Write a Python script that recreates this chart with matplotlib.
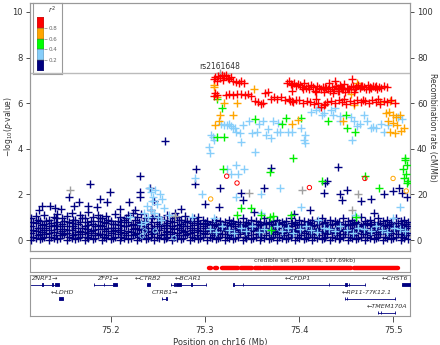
import matplotlib

matplotlib.use("Agg")
import matplotlib.pyplot as plt

# ---- association points (position Mb, -log10 p) ----
# dense background band of low-LD SNPs, one column of values per position
navy_band = [
    (75.115, [0.02, 0.3, 0.6, 0.95]), (75.120, [0.1, 0.4, 0.75, 1.05]),
    (75.124, [0.05, 0.25, 0.55, 0.85]), (75.129, [0.15, 0.45, 0.7, 1.1]),
    (75.134, [0.0, 0.3, 0.6, 0.9]), (75.139, [0.1, 0.35, 0.65, 1.0]),
    (75.143, [0.05, 0.5, 0.8, 1.15]), (75.148, [0.2, 0.4, 0.7, 0.95]),
    (75.153, [0.0, 0.3, 0.6, 1.05]), (75.158, [0.1, 0.45, 0.75, 1.2]),
    (75.162, [0.05, 0.25, 0.55, 0.9]), (75.167, [0.15, 0.4, 0.8, 1.1]),
    (75.172, [0.0, 0.35, 0.6, 0.95]), (75.176, [0.1, 0.3, 0.65, 1.25]),
    (75.181, [0.05, 0.45, 0.7, 1.0]), (75.186, [0.2, 0.5, 0.85, 1.1]),
    (75.190, [0.0, 0.25, 0.6, 0.95]), (75.195, [0.1, 0.4, 0.75, 1.05]),
    (75.200, [0.05, 0.3, 0.55, 0.85]), (75.204, [0.15, 0.45, 0.7, 1.15]),
    (75.209, [0.0, 0.35, 0.65, 1.0]), (75.214, [0.1, 0.3, 0.6, 0.9]),
    (75.218, [0.05, 0.4, 0.8, 1.1]), (75.223, [0.2, 0.5, 0.7, 1.2]),
    (75.228, [0.0, 0.3, 0.65, 1.0]), (75.232, [0.1, 0.45, 0.75, 1.15]),
    (75.237, [0.05, 0.35, 0.55, 0.95]), (75.242, [0.15, 0.4, 0.8, 1.3]),
    (75.246, [0.0, 0.3, 0.6, 1.05]), (75.251, [0.1, 0.45, 0.7, 1.0]),
    (75.256, [0.05, 0.25, 0.55, 0.9]), (75.260, [0.15, 0.4, 0.75, 1.1]),
    (75.265, [0.0, 0.35, 0.6, 0.95]), (75.270, [0.1, 0.3, 0.65, 1.0]),
    (75.274, [0.05, 0.45, 0.7, 0.9]), (75.279, [0.2, 0.4, 0.8, 1.05]),
    (75.284, [0.0, 0.3, 0.55, 0.85]), (75.288, [0.1, 0.35, 0.65, 0.95]),
    (75.293, [0.05, 0.45, 0.75, 1.0]), (75.298, [0.15, 0.3, 0.6, 0.9]),
    (75.302, [0.0, 0.4, 0.7, 0.85]), (75.307, [0.1, 0.3, 0.55, 0.8]),
    (75.312, [0.05, 0.35, 0.65, 0.9]), (75.316, [0.15, 0.45, 0.7, 0.85]),
    (75.321, [0.0, 0.25, 0.5, 0.8]), (75.326, [0.1, 0.4, 0.6, 0.9]),
    (75.330, [0.05, 0.3, 0.7, 0.85]), (75.335, [0.15, 0.35, 0.55, 0.8]),
    (75.340, [0.0, 0.45, 0.65, 0.95]), (75.344, [0.1, 0.3, 0.6, 0.8]),
    (75.349, [0.05, 0.4, 0.7, 0.9]), (75.354, [0.15, 0.25, 0.55, 0.85]),
    (75.358, [0.0, 0.35, 0.65, 0.8]), (75.363, [0.1, 0.45, 0.7, 0.95]),
    (75.368, [0.05, 0.3, 0.5, 0.8]), (75.372, [0.15, 0.4, 0.6, 0.85]),
    (75.377, [0.0, 0.35, 0.7, 0.9]), (75.382, [0.1, 0.3, 0.55, 0.8]),
    (75.386, [0.05, 0.45, 0.65, 0.85]), (75.391, [0.15, 0.25, 0.6, 0.95]),
    (75.396, [0.0, 0.4, 0.7, 0.8]), (75.400, [0.1, 0.35, 0.55, 0.9]),
    (75.405, [0.05, 0.3, 0.65, 0.85]), (75.410, [0.15, 0.45, 0.7, 0.8]),
    (75.414, [0.0, 0.25, 0.6, 0.9]), (75.419, [0.1, 0.4, 0.5, 0.85]),
    (75.424, [0.05, 0.35, 0.7, 0.95]), (75.428, [0.15, 0.3, 0.6, 0.8]),
    (75.433, [0.0, 0.45, 0.65, 0.9]), (75.438, [0.1, 0.3, 0.55, 0.85]),
    (75.442, [0.05, 0.4, 0.7, 0.8]), (75.447, [0.15, 0.25, 0.6, 0.95]),
    (75.452, [0.0, 0.35, 0.65, 0.85]), (75.456, [0.1, 0.45, 0.7, 0.9]),
    (75.461, [0.05, 0.3, 0.55, 0.8]), (75.466, [0.15, 0.4, 0.6, 1.0]),
    (75.470, [0.0, 0.35, 0.7, 0.85]), (75.475, [0.1, 0.3, 0.65, 0.9]),
    (75.480, [0.05, 0.45, 0.55, 0.8]), (75.484, [0.15, 0.25, 0.7, 0.95]),
    (75.489, [0.0, 0.4, 0.6, 0.85]), (75.494, [0.1, 0.35, 0.65, 0.9]),
    (75.498, [0.05, 0.3, 0.7, 0.8]), (75.503, [0.15, 0.45, 0.6, 0.95]),
    (75.508, [0.0, 0.25, 0.55, 0.85]), (75.512, [0.1, 0.4, 0.7, 0.9]),
    (75.516, [0.05, 0.3, 0.6, 0.8]),
]
# second interleaved set of band columns
navy_band2 = [
    (75.117, [0.15, 0.45, 0.8]), (75.122, [0.2, 0.55, 0.9]), (75.127, [0.1, 0.35, 0.65]),
    (75.131, [0.25, 0.55, 0.85]), (75.136, [0.15, 0.45, 0.75]), (75.141, [0.2, 0.6, 0.95]),
    (75.146, [0.1, 0.3, 0.6]), (75.150, [0.25, 0.5, 0.85]), (75.155, [0.15, 0.45, 0.8]),
    (75.160, [0.2, 0.6, 0.9]), (75.165, [0.1, 0.35, 0.7]), (75.169, [0.25, 0.55, 0.95]),
    (75.174, [0.15, 0.5, 0.8]), (75.179, [0.2, 0.4, 0.85]), (75.183, [0.1, 0.3, 0.6]),
    (75.188, [0.25, 0.65, 0.95]), (75.193, [0.15, 0.5, 0.8]), (75.197, [0.2, 0.55, 0.9]),
    (75.202, [0.1, 0.4, 0.7]), (75.207, [0.25, 0.55, 0.85]), (75.211, [0.15, 0.45, 0.8]),
    (75.216, [0.2, 0.6, 0.95]), (75.221, [0.1, 0.35, 0.65]), (75.225, [0.25, 0.55, 0.9]),
    (75.230, [0.15, 0.5, 0.8]), (75.235, [0.2, 0.6, 0.85]), (75.239, [0.1, 0.4, 0.7]),
    (75.244, [0.25, 0.55, 0.95]), (75.249, [0.15, 0.45, 0.8]), (75.253, [0.2, 0.6, 0.9]),
    (75.258, [0.1, 0.35, 0.65]), (75.263, [0.25, 0.55, 0.85]), (75.267, [0.15, 0.5, 0.8]),
    (75.272, [0.2, 0.55, 0.9]), (75.277, [0.1, 0.35, 0.6]), (75.281, [0.25, 0.6, 0.85]),
    (75.286, [0.15, 0.45, 0.75]), (75.291, [0.2, 0.55, 0.85]), (75.295, [0.1, 0.4, 0.7]),
    (75.300, [0.25, 0.55, 0.75]), (75.305, [0.15, 0.45, 0.65]), (75.309, [0.2, 0.5, 0.7]),
    (75.314, [0.1, 0.3, 0.6]), (75.318, [0.25, 0.55, 0.7]), (75.323, [0.15, 0.4, 0.65]),
    (75.328, [0.2, 0.5, 0.75]), (75.332, [0.1, 0.45, 0.6]), (75.337, [0.25, 0.5, 0.7]),
    (75.342, [0.15, 0.35, 0.65]), (75.346, [0.2, 0.55, 0.75]), (75.351, [0.1, 0.45, 0.6]),
    (75.356, [0.25, 0.5, 0.7]), (75.360, [0.15, 0.4, 0.65]), (75.365, [0.2, 0.55, 0.75]),
    (75.370, [0.1, 0.45, 0.7]), (75.374, [0.25, 0.5, 0.65]), (75.379, [0.15, 0.4, 0.75]),
    (75.384, [0.2, 0.55, 0.7]), (75.388, [0.1, 0.35, 0.6]), (75.393, [0.25, 0.5, 0.75]),
    (75.398, [0.15, 0.45, 0.65]), (75.402, [0.2, 0.55, 0.7]), (75.407, [0.1, 0.4, 0.6]),
    (75.412, [0.25, 0.5, 0.75]), (75.416, [0.15, 0.45, 0.65]), (75.421, [0.2, 0.55, 0.7]),
    (75.426, [0.1, 0.4, 0.75]), (75.430, [0.25, 0.5, 0.65]), (75.435, [0.15, 0.35, 0.7]),
    (75.440, [0.2, 0.55, 0.75]), (75.444, [0.1, 0.45, 0.6]), (75.449, [0.25, 0.5, 0.7]),
    (75.454, [0.15, 0.4, 0.65]), (75.458, [0.2, 0.55, 0.75]), (75.463, [0.1, 0.45, 0.7]),
    (75.468, [0.25, 0.5, 0.65]), (75.472, [0.15, 0.4, 0.75]), (75.477, [0.2, 0.55, 0.7]),
    (75.482, [0.1, 0.35, 0.6]), (75.486, [0.25, 0.5, 0.75]), (75.491, [0.15, 0.45, 0.65]),
    (75.496, [0.2, 0.55, 0.7]), (75.500, [0.1, 0.4, 0.6]), (75.505, [0.25, 0.5, 0.75]),
    (75.510, [0.15, 0.45, 0.65]), (75.514, [0.2, 0.55, 0.7]),
]

# scattered low-LD SNPs above the band
navy_x = [75.178, 75.155, 75.199, 75.188, 75.166, 75.231, 75.231, 75.231, 75.241,
          75.127, 75.135, 75.161, 75.176, 75.147, 75.196, 75.219, 75.246, 75.123,
          75.140, 75.210, 75.185, 75.257, 75.290, 75.370, 75.441, 75.289, 75.316,
          75.363, 75.338, 75.340, 75.315, 75.300, 75.274, 75.430, 75.428, 75.451,
          75.427, 75.444, 75.446, 75.466, 75.476, 75.490, 75.500, 75.515, 75.506,
          75.510, 75.226, 75.268, 75.352, 75.395, 75.412, 75.480]
navy_y = [2.45, 1.9, 2.1, 1.8, 1.65, 2.8, 2.1, 1.9, 2.3,
          1.5, 1.5, 1.5, 1.5, 1.35, 1.65, 1.65, 1.7, 1.3,
          1.4, 1.35, 1.45, 4.35, 3.1, 3.15, 3.2, 2.45, 2.3,
          2.3, 2.05, 1.75, 1.45, 1.6, 1.35, 2.6, 2.5, 2.2,
          2.05, 2.0, 1.75, 1.7, 1.8, 2.0, 2.15, 1.9, 2.3,
          2.05, 1.3, 1.2, 1.25, 1.15, 1.3, 1.2]

lblue_x = [
    # upper band
    75.304, 75.305, 75.306, 75.308, 75.310, 75.317, 75.320, 75.323, 75.325, 75.328,
    75.330, 75.332, 75.333, 75.337, 75.340, 75.347, 75.350, 75.355, 75.357, 75.362,
    75.365, 75.367, 75.370, 75.372, 75.377, 75.378, 75.380, 75.388, 75.392, 75.402,
    75.405, 75.406, 75.406, 75.418, 75.421, 75.427, 75.434, 75.436, 75.438, 75.424,
    75.444, 75.455, 75.469, 75.472, 75.479, 75.482, 75.490, 75.458, 75.444, 75.465,
    75.476, 75.456, 75.462, 75.487, 75.495, 75.505, 75.509, 75.338, 75.353, 75.413,
    # mid values
    75.333, 75.323, 75.341, 75.335, 75.289, 75.297, 75.360, 75.380, 75.328, 75.333,
    75.402, 75.286, 75.310, 75.360, 75.420, 75.460, 75.500, 75.507,
    # hump near 75.24
    75.240, 75.243, 75.245, 75.247, 75.244, 75.249, 75.238, 75.242, 75.246, 75.250,
    75.253, 75.236, 75.239, 75.256, 75.254, 75.252, 75.235, 75.232, 75.220, 75.262,
    # low band
    75.305, 75.312, 75.318, 75.325, 75.331, 75.338, 75.344, 75.350, 75.357, 75.363,
    75.369, 75.376, 75.382, 75.388, 75.394, 75.401, 75.407, 75.413, 75.419, 75.426,
    75.432, 75.438, 75.444, 75.451, 75.457, 75.463, 75.469, 75.476, 75.482, 75.488,
    75.494, 75.501, 75.507, 75.513,
]
lblue_y = [
    4.1, 3.8, 4.6, 4.5, 4.4, 5.1, 5.05, 5.05, 5.1, 5.0,
    4.9, 4.9, 4.75, 4.7, 5.05, 5.2, 4.7, 4.75, 5.1, 5.2,
    4.6, 4.85, 4.47, 5.2, 4.75, 5.15, 4.75, 4.75, 4.75, 4.9,
    4.4, 4.25, 4.6, 5.7, 5.8, 5.55, 5.7, 5.48, 5.8, 5.48,
    5.45, 5.4, 5.48, 5.2, 4.95, 4.9, 4.75, 5.2, 5.2, 5.1,
    4.9, 4.4, 5.0, 5.1, 5.05, 5.4, 5.3, 4.3, 3.85, 5.6,
    3.3, 3.1, 3.1, 2.9, 2.7, 2.0, 2.0, 2.3, 2.9, 1.9,
    1.45, 1.0, 0.95, 1.2, 0.9, 1.1, 0.95, 1.45,
    2.3, 2.1, 1.9, 2.2, 1.7, 1.6, 1.5, 1.3, 1.2, 1.0,
    0.9, 0.8, 1.0, 1.4, 1.8, 2.0, 1.2, 0.7, 1.0, 1.1,
    0.5, 0.35, 0.6, 0.45, 0.3, 0.55, 0.4, 0.6, 0.35, 0.5,
    0.45, 0.6, 0.4, 0.55, 0.3, 0.5, 0.6, 0.45, 0.35, 0.55,
    0.5, 0.4, 0.6, 0.45, 0.3, 0.55, 0.5, 0.4, 0.6, 0.45,
    0.35, 0.55, 0.5, 0.4,
]

green_x = [75.320, 75.319, 75.338, 75.349, 75.334, 75.360, 75.372, 75.369, 75.370,
           75.369, 75.394, 75.424, 75.485, 75.470, 75.461, 75.391, 75.313, 75.318,
           75.313, 75.353, 75.386, 75.382, 75.402, 75.431, 75.450, 75.451, 75.459,
           75.513, 75.515, 75.511, 75.514, 75.512, 75.516, 75.513, 75.515]
green_y = [4.5, 3.1, 1.4, 1.4, 1.1, 1.1, 1.05, 1.0, 0.45,
           3.0, 3.6, 2.6, 2.3, 2.8, 1.0, 1.1, 6.2, 5.8,
           4.5, 5.3, 5.35, 5.1, 5.35, 5.2, 5.5, 4.9, 4.75,
           3.5, 3.3, 3.1, 2.9, 2.7, 2.6, 3.6, 2.5]

orange_x = [75.310, 75.309, 75.313, 75.320, 75.334, 75.352, 75.311, 75.315, 75.316,
            75.330, 75.393, 75.399, 75.447, 75.462, 75.455, 75.486, 75.497, 75.493,
            75.496, 75.500, 75.503, 75.507, 75.495, 75.500, 75.504, 75.497, 75.502,
            75.508, 75.512, 75.458]
orange_y = [6.8, 6.7, 6.27, 6.0, 6.0, 6.6, 5.05, 5.2, 5.5,
            5.5, 5.1, 5.25, 5.2, 6.9, 6.4, 6.05, 6.1, 5.55,
            5.6, 5.5, 5.4, 5.5, 5.2, 5.15, 5.05, 4.75, 4.7,
            4.8, 4.9, 5.9]

red_x = [
    # upper left cluster
    75.309, 75.311, 75.314, 75.316, 75.318, 75.320, 75.322, 75.324, 75.326, 75.328,
    75.330, 75.333, 75.336, 75.338, 75.341, 75.313, 75.319,
    # lower left band
    75.309, 75.311, 75.313, 75.322, 75.326, 75.330, 75.334, 75.338, 75.342, 75.346,
    75.349, 75.353, 75.356, 75.359, 75.362, 75.364, 75.367, 75.370, 75.373, 75.377,
    75.381, 75.385, 75.389, 75.393, 75.397,
    # upper right band
    75.387, 75.389, 75.391, 75.393, 75.395, 75.397, 75.399, 75.401, 75.403, 75.405,
    75.407, 75.409, 75.411, 75.413, 75.415, 75.417, 75.419, 75.421, 75.423, 75.425,
    75.427, 75.429, 75.431, 75.433, 75.435, 75.437, 75.439, 75.441, 75.443, 75.445,
    75.447, 75.449, 75.451, 75.453, 75.455, 75.457, 75.459, 75.461, 75.463, 75.465,
    75.467, 75.469, 75.471, 75.473, 75.475, 75.477, 75.479, 75.481, 75.483, 75.485,
    75.487, 75.490, 75.494, 75.392, 75.404, 75.418, 75.428, 75.438, 75.446, 75.452,
    75.458, 75.466, 75.474, 75.482, 75.441, 75.432, 75.448, 75.456, 75.444, 75.436,
    # lower right band
    75.390, 75.394, 75.400, 75.404, 75.408, 75.412, 75.416, 75.420, 75.423, 75.426,
    75.430, 75.434, 75.438, 75.442, 75.446, 75.450, 75.454, 75.458, 75.462, 75.466,
    75.470, 75.474, 75.478, 75.482, 75.486, 75.490, 75.494, 75.498, 75.502, 75.418,
    75.428, 75.448, 75.468, 75.484,
]
red_y = [
    7.05, 7.15, 7.2, 7.1, 7.22, 7.18, 7.25, 7.12, 7.05, 7.15,
    6.98, 6.92, 6.88, 6.95, 6.9, 6.95, 7.0,
    6.3, 6.45, 6.35, 6.35, 6.4, 6.35, 6.38, 6.4, 6.35, 6.38,
    6.32, 6.1, 6.05, 5.95, 6.0, 6.45, 6.5, 6.2, 6.25, 6.2,
    6.25, 6.15, 6.2, 6.1, 6.15,
    6.9, 6.95, 6.85, 6.8, 6.9, 6.75, 6.85, 6.8, 6.7, 6.9,
    6.65, 6.75, 6.6, 6.8, 6.7, 6.55, 6.75, 6.65, 6.6, 6.7,
    6.5, 6.65, 6.6, 6.55, 6.7, 6.6, 6.75, 6.65, 6.55, 6.7,
    6.6, 6.5, 6.65, 6.6, 6.7, 6.75, 6.6, 6.7, 6.8, 6.65,
    6.75, 6.7, 6.6, 6.8, 6.7, 6.65, 6.75, 6.7, 6.6, 6.7,
    6.65, 6.75, 6.7, 6.55, 6.6, 6.5, 6.7, 6.95, 6.6, 6.6,
    6.5, 6.75, 6.6, 6.75, 6.55, 6.9, 6.85, 7.05, 6.8, 6.45,
    6.1, 6.05, 6.15, 6.0, 6.1, 6.05, 5.95, 6.0, 5.85, 5.9,
    6.05, 6.1, 6.0, 6.15, 6.05, 5.95, 6.1, 6.0, 6.15, 6.05,
    6.1, 6.0, 6.15, 6.05, 5.95, 6.1, 6.05, 6.15, 6.0, 6.2,
    5.95, 6.2, 6.15, 6.2,
]

gray_x = [75.156, 75.347, 75.403, 75.463, 75.456, 75.316, 75.268]
gray_y = [2.2, 2.05, 2.2, 2.0, 1.3, 7.33, 1.05]

# open circles
circle_x = [75.306, 75.500, 75.514, 75.323, 75.334, 75.411, 75.470, 75.236, 75.233, 75.247, 75.267]
circle_y = [1.8, 2.7, 2.15, 2.8, 2.5, 2.3, 2.7, 0.4, 0.18, 0.4, 0.1]
circle_c = ["#FFA500", "#FFA500", "#FFA500", "#FF0000", "#FF0000", "#FF0000", "#FF0000",
            "#87CEFA", "#87CEFA", "#87CEFA", "#87CEFA"]

top_snp = "rs2161648"
top_pos = 75.316
sig_line = 7.3

# credible set segments
cred_start = [75.304, 75.311, 75.318, 75.338, 75.353, 75.362, 75.372, 75.458]
cred_end = [75.306, 75.313, 75.335, 75.350, 75.360, 75.370, 75.455, 75.505]

# genes
gene_names = ["ZNRF1", "LDHD", "ZFP1", "CTRB2", "CTRB1", "BCAR1", "CFDP1", "CHST6",
              "RP11-77K12.1", "TMEM170A"]
gene_start = [75.105, 75.145, 75.182, 75.238, 75.254, 75.264, 75.330, 75.509, 75.449, 75.484]
gene_end = [75.145, 75.149, 75.206, 75.2415, 75.2595, 75.301, 75.470, 75.525, 75.502, 75.502]
gene_strand = ["+", "-", "+", "-", "+", "-", "-", "-", "-", "-"]
gene_row = [0, 1, 0, 0, 1, 0, 0, 0, 1, 2]
gene_label_x = [75.129, 75.148, 75.196, 75.239, 75.257, 75.282, 75.399, 75.502, 75.472, 75.4936]
gene_exons = [
    [(75.127, 75.1275), (75.1375, 75.138), (75.140, 75.145)],
    [(75.145, 75.149)],
    [(75.182, 75.1823), (75.192, 75.1923), (75.2025, 75.206)],
    [(75.238, 75.2415)],
    [(75.254, 75.2547), (75.2585, 75.2595)],
    [(75.264, 75.2643), (75.2675, 75.268), (75.2695, 75.274), (75.2855, 75.286), (75.3005, 75.301)],
    [(75.330, 75.3303), (75.3405, 75.3408), (75.4315, 75.4318), (75.449, 75.451),
     (75.453, 75.4533), (75.4697, 75.470)],
    [(75.509, 75.525)],
    [(75.449, 75.4493), (75.4505, 75.4508), (75.5017, 75.502)],
    [(75.484, 75.4843), (75.4873, 75.4876), (75.5017, 75.502)],
]

r2_bins = [0.0, 0.2, 0.4, 0.6, 0.8]
r2_colors = ["#000080", "#87CEFA", "#00FF00", "#FFA500", "#FF0000"]

W, H = 440, 345
XLIM = (75.1138, 75.518)
TXT = "#333333"
EDGE = "#999999"

fig = plt.figure(figsize=(W / 100, H / 100), dpi=100)


def frac(x0, y0, x1, y1):
    """pixel box (top-left origin) -> figure fraction rect"""
    return [x0 / W, 1 - y1 / H, (x1 - x0) / W, (y1 - y0) / H]


def style_box(a):
    for s in a.spines.values():
        s.set_color(EDGE)
        s.set_linewidth(0.8)


# ---- main association panel ----
ax = fig.add_axes(frac(30, 3, 410, 251))
style_box(ax)
ax.set_xlim(*XLIM)
ax.set_ylim(-0.48, 10.39)
ax.set_xticks([])
ax.set_yticks([0, 2, 4, 6, 8, 10])
ax.tick_params(axis="y", labelsize=6, colors=TXT, length=3, width=0.6, pad=2)
ax.set_ylabel(r"$-$log$_{10}$($p$-value)", fontsize=5.5, color=TXT, va="center")
ax.yaxis.set_label_coords(-21 / 380, 0.5)

ax2 = ax.twinx()
style_box(ax2)
ax2.set_ylim(-4.8, 103.9)
ax2.set_yticks([0, 20, 40, 60, 80, 100])
ax2.tick_params(axis="y", labelsize=6, colors=TXT, length=3, width=0.6, pad=2)
ax2.set_ylabel("Recombination rate (cM/Mb)", fontsize=5.5, color=TXT, rotation=270,
               va="center")
ax2.yaxis.set_label_coords(1 + 22 / 380, 0.5)
ax.set_zorder(ax2.get_zorder() + 1)
ax.patch.set_visible(False)

ax.axhline(sig_line, color="#BBBBBB", lw=1.0, zorder=1)

band_x = [x for x, ys in navy_band + navy_band2 for _ in ys]
band_y = [y for _, ys in navy_band + navy_band2 for y in ys]
kw = dict(marker="+", s=28, linewidths=1.0, zorder=3)
ax.scatter(band_x, band_y, color="#000080", **kw)
ax.scatter(navy_x, navy_y, color="#000080", **kw)
ax.scatter(gray_x, gray_y, color="#A0A0A0", **kw)
ax.scatter(lblue_x, lblue_y, color="#87CEFA", **kw)
ax.scatter(green_x, green_y, color="#00EE00", **kw)
ax.scatter(orange_x, orange_y, color="#FFA500", **kw)
ax.scatter(red_x, red_y, color="#FF0000", **kw)
ax.scatter(circle_x, circle_y, facecolors="none", edgecolors=circle_c, marker="o",
           s=10, linewidths=0.7, zorder=4)

ax.text(top_pos, sig_line + 0.12, top_snp, fontsize=5.5, color=TXT,
        ha="center", va="bottom")

# ---- r2 legend ----
lg = fig.add_axes(frac(33, 3, 62, 74))
style_box(lg)
lg.set_xticks([])
lg.set_yticks([])
lg.patch.set_facecolor("white")
lg.text(0.65, 0.97, r"$r^2$", fontsize=5, color=TXT, ha="center", va="top",
        transform=lg.transAxes)

cb = fig.add_axes(frac(37, 17, 44, 71))
for b, c in zip(r2_bins, r2_colors):
    cb.bar(0, 0.2, bottom=b, width=1, color=c, edgecolor="#555555", linewidth=0.3)
cb.set_xlim(-0.5, 0.5)
cb.set_ylim(0, 1)
cb.set_xticks([])
cb.set_yticks(r2_bins[1:])
cb.yaxis.tick_right()
cb.tick_params(axis="y", labelsize=4, colors="#666666", length=2, width=0.4, pad=1)
for s in cb.spines.values():
    s.set_visible(False)

# ---- credible set panel ----
cs = fig.add_axes(frac(30, 258, 410, 272))
style_box(cs)
cs.set_xlim(*XLIM)
cs.set_ylim(0, 1)
cs.set_xticks([])
cs.set_yticks([])
for a, b in zip(cred_start, cred_end):
    cs.plot([a, b], [0.3, 0.3], color="#FF0000", lw=3.2, solid_capstyle="round")
cs.text(75.406, 0.97, "credible set (367 sites, 197.69kb)", fontsize=4.3, color=TXT,
        ha="center", va="top")

# ---- gene panel ----
gx = fig.add_axes(frac(30, 275, 410, 316))
style_box(gx)
gx.set_xlim(*XLIM)
gx.set_ylim(41, 0)
gx.set_yticks([])
row_line = [9.5, 23.5, 37.5]
for name, g0, g1, st, row, lx, exons in zip(gene_names, gene_start, gene_end, gene_strand,
                                           gene_row, gene_label_x, gene_exons):
    yl = row_line[row]
    gx.plot([g0, g1], [yl, yl], color="#000080", lw=0.6, zorder=2)
    for e0, e1 in exons:
        gx.fill_between([e0, e1], yl - 1.6, yl + 1.6, color="#000080", lw=0.6,
                        edgecolor="#000080", zorder=3)
    label = f"{name}\u2192" if st == "+" else f"\u2190{name}"
    gx.text(lx, yl - 3.2, label, fontsize=4.6, style="italic", color=TXT,
            ha="center", va="bottom", zorder=4)

gx.set_xticks([75.2, 75.3, 75.4, 75.5])
gx.set_xticklabels(["75.2", "75.3", "75.4", "75.5"])
gx.tick_params(axis="x", labelsize=6, colors=TXT, length=4, width=0.6, pad=3)
gx.set_xlabel("Position on chr16 (Mb)", fontsize=6, color=TXT, labelpad=2)

fig.savefig("out.png", dpi=100)
